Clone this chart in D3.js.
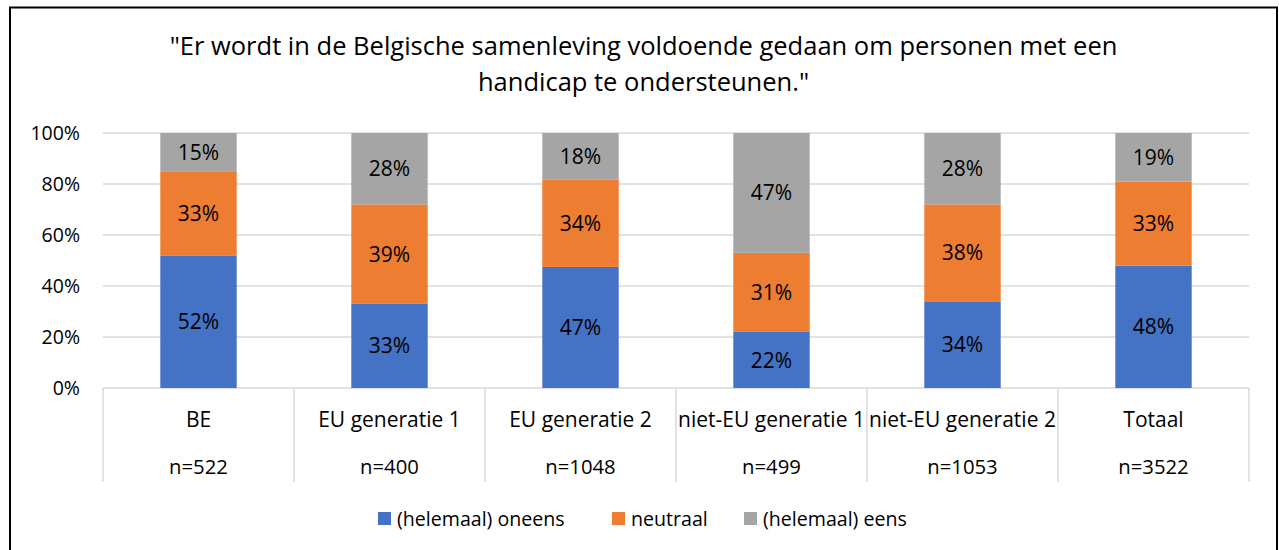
<!DOCTYPE html>
<html>
<head>
<meta charset="utf-8">
<script src="https://cdn.jsdelivr.net/npm/d3@7"></script>
<style>
  body { margin: 0; background: #fff; }
  text { font-family: "Open Sans", Lato, "Liberation Sans", sans-serif; fill: #000; }
</style>
</head>
<body>
<div id="chart"></div>
<script>
// Stacked 100% bars - opinions on support for people with a disability

var categories = ['BE', 'EU generatie 1', 'EU generatie 2', 'niet-EU generatie 1', 'niet-EU generatie 2', 'Totaal'];
var sampleSizes = ['n=522', 'n=400', 'n=1048', 'n=499', 'n=1053', 'n=3522'];
var seriesNames = ['(helemaal) oneens', 'neutraal', '(helemaal) eens'];
var oneens = [52, 33, 47, 22, 34, 48];
var neutraal = [33, 39, 34, 31, 38, 33];
var eens = [15, 28, 18, 47, 28, 19];
var yTicks = [0, 0.2, 0.4, 0.6, 0.8, 1];
var titleLines = ['"Er wordt in de Belgische samenleving voldoende gedaan om personen met een', 'handicap te ondersteunen."'];
var colors = ['#4472C4', '#ED7D31', '#A5A5A5'];

var width = 1279, height = 550;

// build rows for d3.stack
var rows = categories.map(function (c, i) {
  return { cat: c, s0: oneens[i], s1: neutraal[i], s2: eens[i] };
});
var keys = ['s0', 's1', 's2'];
var stacked = d3.stack().keys(keys).offset(d3.stackOffsetExpand)(rows);

var svg = d3.select('#chart')
  .append('svg')
  .attr('width', width)
  .attr('height', height);

// outer border
svg.append('rect')
  .attr('x', 10)
  .attr('y', 7.5)
  .attr('width', 1267)
  .attr('height', 560)
  .style('fill', 'none')
  .style('stroke', '#000')
  .style('stroke-width', 2);

var x = d3.scaleBand()
  .domain(categories)
  .range([103, 1249])
  .padding(0);

var y = d3.scaleLinear()
  .domain([0, 1])
  .range([388, 133]);

var barW = x.bandwidth() * 0.4;

// title
svg.selectAll('.title')
  .data(titleLines)
  .enter()
  .append('text')
  .attr('class', 'title')
  .attr('x', 643.5)
  .attr('y', function (d, i) { return 55 + i * 36; })
  .attr('text-anchor', 'middle')
  .style('font-size', '25.5px')
  .text(function (d) { return d; });

// gridlines
svg.selectAll('.grid')
  .data(yTicks)
  .enter()
  .append('line')
  .attr('class', 'grid')
  .attr('x1', 103)
  .attr('x2', 1249)
  .attr('y1', function (d) { return y(d); })
  .attr('y2', function (d) { return y(d); })
  .style('stroke', '#D9D9D9')
  .style('stroke-width', 1.5);

// y tick labels
svg.selectAll('.ytick')
  .data(yTicks)
  .enter()
  .append('text')
  .attr('class', 'ytick')
  .attr('x', 80)
  .attr('y', function (d) { return y(d); })
  .attr('dy', '0.36em')
  .attr('text-anchor', 'end')
  .style('font-size', '19.5px')
  .text(function (d) { return d3.format('.0%')(d); });

// category separators
svg.selectAll('.sep')
  .data(categories.concat(['end']))
  .enter()
  .append('line')
  .attr('class', 'sep')
  .attr('x1', function (d, i) { return 103 + i * x.bandwidth(); })
  .attr('x2', function (d, i) { return 103 + i * x.bandwidth(); })
  .attr('y1', 388)
  .attr('y2', 482)
  .style('stroke', '#D9D9D9')
  .style('stroke-width', 1.5);

// bars
var layer = svg.selectAll('.layer')
  .data(stacked)
  .enter()
  .append('g')
  .attr('class', 'layer')
  .style('fill', function (d, i) { return colors[i]; });

layer.selectAll('rect')
  .data(function (d) { return d; })
  .enter()
  .append('rect')
  .attr('x', function (d) { return x(d.data.cat) + (x.bandwidth() - barW) / 2; })
  .attr('y', function (d) { return y(d[1]); })
  .attr('width', barW)
  .attr('height', function (d) { return y(d[0]) - y(d[1]); });

// data labels
layer.selectAll('.val')
  .data(function (d) {
    return d.map(function (p) { return { p: p, key: d.key }; });
  })
  .enter()
  .append('text')
  .attr('class', 'val')
  .attr('x', function (d) { return x(d.p.data.cat) + x.bandwidth() / 2; })
  .attr('y', function (d) { return (y(d.p[0]) + y(d.p[1])) / 2; })
  .attr('dy', '0.36em')
  .attr('text-anchor', 'middle')
  .style('font-size', '21px')
  .text(function (d) { return d.p.data[d.key] + '%'; });

// category labels
svg.selectAll('.cat')
  .data(categories)
  .enter()
  .append('text')
  .attr('class', 'cat')
  .attr('x', function (d) { return x(d) + x.bandwidth() / 2; })
  .attr('y', 427)
  .attr('text-anchor', 'middle')
  .style('font-size', '21px')
  .text(function (d) { return d; });

svg.selectAll('.nlab')
  .data(sampleSizes)
  .enter()
  .append('text')
  .attr('class', 'nlab')
  .attr('x', function (d, i) { return x(categories[i]) + x.bandwidth() / 2; })
  .attr('y', 474)
  .attr('text-anchor', 'middle')
  .style('font-size', '20.3px')
  .text(function (d) { return d; });

// legend
var legendX = [378, 612, 744];
var legend = svg.selectAll('.legend')
  .data(seriesNames)
  .enter()
  .append('g')
  .attr('class', 'legend')
  .attr('transform', function (d, i) { return 'translate(' + legendX[i] + ',512)'; });

legend.append('rect')
  .attr('width', 13)
  .attr('height', 13)
  .style('fill', function (d, i) { return colors[i]; });

legend.append('text')
  .attr('x', 19)
  .attr('y', 13.5)
  .style('font-size', '19.6px')
  .text(function (d) { return d; });
</script>
</body>
</html>
